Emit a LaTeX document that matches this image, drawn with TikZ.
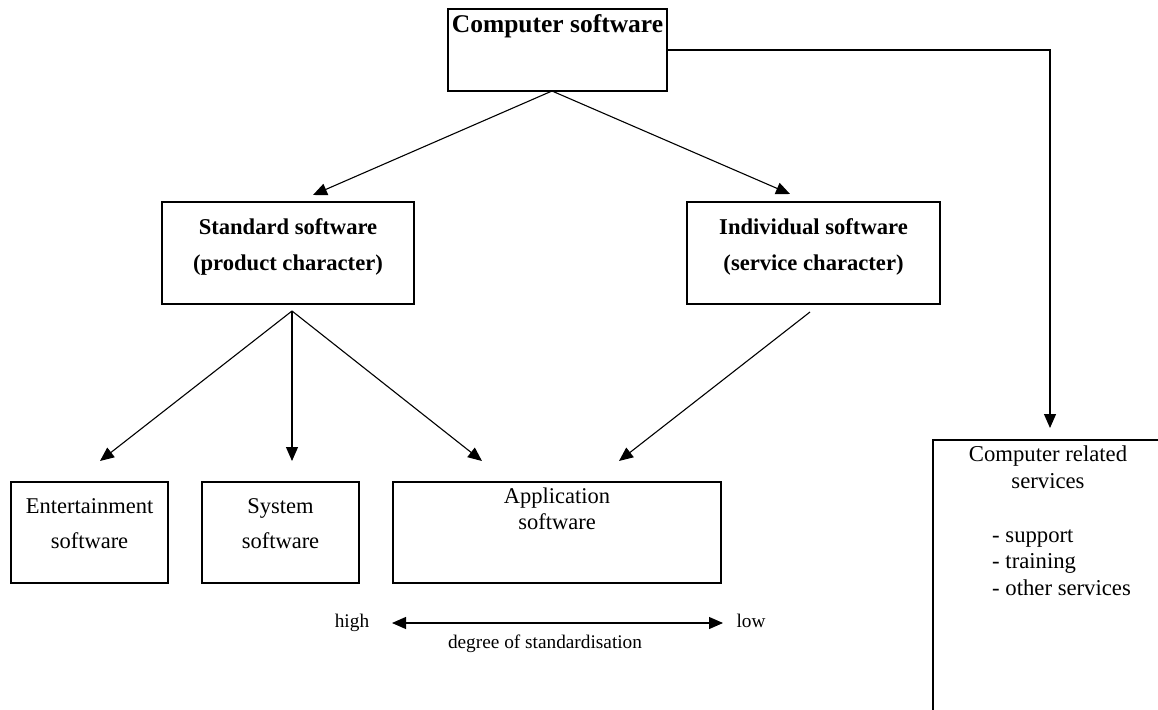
\documentclass[tikz,border=0pt]{standalone}
\usepackage{fontspec}
\setmainfont{Liberation Serif}
\usetikzlibrary{arrows.meta,calc}
\tikzset{
  box/.style={draw, line width=1.2pt, inner sep=0pt, rectangle},
  conn/.style={line width=1.1pt, -{Triangle[length=14pt,width=12pt]}},
  dconn/.style={line width=1.1pt, {Triangle[length=14pt,width=12pt]}-{Triangle[length=14pt,width=12pt]}},
  boldtxt/.style={font=\bfseries\fontsize{22.6}{36}\selectfont, align=center, anchor=base, inner sep=0pt},
  normtxt/.style={font=\fontsize{22.5}{35}\selectfont, align=center, anchor=base, inner sep=0pt},
  smalltxt/.style={font=\fontsize{19.3}{24}\selectfont, anchor=base, inner sep=0pt}
}
\begin{document}
\begin{tikzpicture}[x=1pt,y=-1pt]
\useasboundingbox (0,0) rectangle (1158,709);
\clip (0,0) rectangle (1158,709);
\fill[white] (0,0) rectangle (1158,709);
% boxes
\node[box, minimum width=219pt, minimum height=82pt] (csw) at (557.5,50) {};
\node[box, minimum width=252pt, minimum height=102pt] (std) at (288,253) {};
\node[box, minimum width=253pt, minimum height=102pt] (ind) at (813.5,253) {};
\node[box, minimum width=157pt, minimum height=101pt] (ent) at (89.5,532.5) {};
\node[box, minimum width=157pt, minimum height=101pt] (sys) at (280.5,532.5) {};
\node[box, minimum width=328pt, minimum height=101pt] (app) at (557,532.5) {};
\node[box, minimum width=260pt, minimum height=300pt] (svc) at (1063,590) {};
% texts (anchor=base is the baseline of the last line)
\node[boldtxt, font=\bfseries\fontsize{25.5}{30}\selectfont] (tcsw) at (557.5,33) {Computer software};
\node[boldtxt] (tstd) at (288,270) {Standard software\\(product character)};
\node[boldtxt] (tind) at (813.5,270) {Individual software\\(service character)};
\node[normtxt] (tent) at (89.5,548) {Entertainment\\software};
\node[normtxt] (tsys) at (280.5,548) {System\\software};
\node[normtxt, font=\fontsize{22.5}{26}\selectfont] (tapp) at (557,529) {Application\\software};
\node[normtxt, font=\fontsize{22.7}{26.5}\selectfont] (tsvc) at (1048,488) {Computer related\\services};
\node[normtxt, align=left, anchor=base west, font=\fontsize{22.7}{26.5}\selectfont] (tlist) at (992,595) {- support\\- training\\- other services};
\node[smalltxt] (thigh) at (352,627) {high};
\node[smalltxt] (tlow) at (751,627) {low};
\node[smalltxt] (tdeg) at (545,648) {degree of standardisation};
% connector coordinates
\coordinate (cswb) at (552,91);
\coordinate (stdtip) at (313,195);
\coordinate (indtip) at (790,194);
\coordinate (stdb) at (292,311);
\coordinate (enttip) at (100,461);
\coordinate (systip) at (292,461);
\coordinate (apptip1) at (482,461);
\coordinate (indb) at (810,312);
\coordinate (apptip2) at (619,461);
\coordinate (corner) at (1050,50);
\coordinate (svctip) at (1050,428);
\coordinate (hl) at (392,623);
\coordinate (hr) at (723,623);
% connectors
\draw[conn] (cswb) -- (stdtip);
\draw[conn] (cswb) -- (indtip);
\draw[conn] (stdb) -- (enttip);
\draw[conn] (stdb) -- (systip);
\draw[conn] (stdb) -- (apptip1);
\draw[conn] (indb) -- (apptip2);
\draw[conn] (csw.east) -- (corner) -- (svctip);
\draw[dconn] (hl) -- (hr);
\end{tikzpicture}
\end{document}
